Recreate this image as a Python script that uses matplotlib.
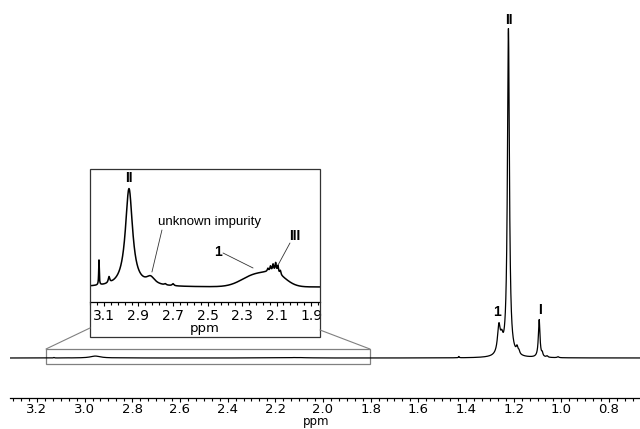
import numpy as np
import matplotlib
matplotlib.use("Agg")
import matplotlib.pyplot as plt
from matplotlib.patches import Rectangle, ConnectionPatch
from matplotlib.ticker import FixedLocator

# peak tables (ppm, height, half width)
main_pos = [1.262, 1.250, 1.222, 1.186, 1.178, 1.093, 1.080, 1.060, 1.014, 1.430]
main_hgt = [0.085, 0.035, 1.000, 0.018, 0.010, 0.115, 0.010, 0.004, 0.003, 0.004]
main_wid = [0.007, 0.006, 0.005, 0.004, 0.004, 0.004, 0.003, 0.004, 0.004, 0.002]

ins_pos = [3.129, 3.071, 2.955, 2.830, 2.745, 2.700,
           2.150, 2.135, 2.120, 2.105, 2.092, 2.078]
ins_hgt = [0.25, 0.06, 0.98, 0.075, 0.012, 0.020,
           0.03, 0.05, 0.07, 0.09, 0.07, 0.04]
ins_wid = [0.002, 0.005, 0.025, 0.030, 0.006, 0.006,
           0.004, 0.004, 0.004, 0.004, 0.004, 0.004]
hump_pos = [2.22, 2.10]   # broad hump "1" in the inset
hump_hgt = [0.12, 0.10]
hump_sig = [0.08, 0.06]
ins_scale = 0.006         # inset magnification relative to the main trace

main_ticks = [3.2, 3.0, 2.8, 2.6, 2.4, 2.2, 2.0, 1.8, 1.6, 1.4, 1.2, 1.0, 0.8]
ins_ticks = [3.1, 2.9, 2.7, 2.5, 2.3, 2.1, 1.9]


def lorentz(x, pos, hgt, wid):
    y = np.zeros_like(x)
    for p, h, w in zip(pos, hgt, wid):
        y += h / (1 + ((x - p) / w) ** 2)
    return y


def inset_trace(x):
    y = lorentz(x, ins_pos, ins_hgt, ins_wid)
    for p, h, s in zip(hump_pos, hump_hgt, hump_sig):
        y += h * np.exp(-0.5 * ((x - p) / s) ** 2)
    return y


fig = plt.figure(figsize=(6.4, 4.29), dpi=100)
W, H = 640, 429

# main spectrum
ax = fig.add_axes([10 / W, (H - 398) / H, 1 - 10 / W, (398 - 10) / H])
x = np.linspace(3.32, 0.66, 20000)
y = lorentz(x, main_pos, main_hgt, main_wid) + ins_scale * inset_trace(x)
ax.plot(x, y, color="black", lw=0.9)
ax.set_xlim(3.313, 0.670)
ax.set_ylim(-40 / 328, 1 + 20 / 328)
for s in ["top", "left", "right"]:
    ax.spines[s].set_visible(False)
ax.spines["bottom"].set_linewidth(0.9)
ax.set_yticks([])
ax.set_xticks(main_ticks)
ax.set_xticklabels(["%.1f" % t for t in main_ticks])
ax.xaxis.set_minor_locator(FixedLocator(np.arange(3.4, 0.6, -0.2 / 6)))
ax.tick_params(axis="x", which="major", length=3, width=0.8, pad=0.5, labelsize=9.5)
ax.tick_params(axis="x", which="minor", length=2.5, width=0.8)
fig.text(316 / W, (H - 422) / H, "ppm", fontsize=8.5, ha="center", va="center")

lab = dict(fontfamily="Liberation Sans", fontweight="bold", fontsize=10, ha="center", va="center")
ax.text(1.222, 338 / 328, "II", **lab)
ax.text(1.270, 46 / 328, "1", **lab)
ax.text(1.089, 48 / 328, "I", **lab)

# zoom rectangle on the main trace
rx0, rx1 = 3.162, 1.803
ry0, ry1 = -6 / 328, 9 / 328
ax.add_patch(Rectangle((rx1, ry0), rx0 - rx1, ry1 - ry0, fill=False, ec="#808080", lw=0.9))

# inset
ix0, ix1, iy0, iy1 = 90, 320, 169, 302
fig.add_artist(Rectangle((ix0 / W, (H - 337) / H), (ix1 - ix0) / W, (337 - iy0) / H,
                         transform=fig.transFigure, fill=False, ec="#333333", lw=0.9))
ins = fig.add_axes([ix0 / W, (H - iy1) / H, (ix1 - ix0) / W, (iy1 - iy0) / H])
xi = np.linspace(3.2, 1.83, 8000)
ins.plot(xi, inset_trace(xi), color="black", lw=1.1)
ins.set_xlim(3.181, 1.848)
ins.set_ylim(-0.15, 1.18)
for s in ["top", "left", "right"]:
    ins.spines[s].set_visible(False)
ins.spines["bottom"].set_linewidth(0.9)
ins.set_yticks([])
ins.set_xticks(ins_ticks)
ins.set_xticklabels(["%.1f" % t for t in ins_ticks])
ins.xaxis.set_minor_locator(FixedLocator(np.arange(3.3, 1.8, -0.04)))
ins.tick_params(axis="x", which="major", length=3, width=0.8, pad=2, labelsize=10)
ins.tick_params(axis="x", which="minor", length=2, width=0.8)
ins.set_xlabel("ppm", fontsize=9.5, labelpad=-1)

ins.text(2.955, 1.09, "II", **lab)
arr = dict(arrowstyle="-", color="#333333", lw=0.6, shrinkA=0, shrinkB=0)
ins.annotate("unknown impurity", xy=(2.822, 0.15), xytext=(2.491, 0.65),
             fontfamily="Liberation Sans", fontsize=9.5, ha="center", va="center")
ins.annotate("", xy=(2.822, 0.15), xytext=(2.764, 0.57), arrowprops=arr)
ins.annotate("", xy=(2.236, 0.19), xytext=(2.41, 0.34), arrowprops=arr)
ins.text(2.439, 0.35, "1", **lab)
ins.annotate("", xy=(2.091, 0.22), xytext=(2.022, 0.44), arrowprops=arr)
ins.text(1.993, 0.51, "III", **lab)

# connector lines from the zoom box to the inset
for (mx, fx, fy) in [(rx0, 0, -26 / 133), (rx1, 1, -28 / 133)]:
    fig.add_artist(ConnectionPatch(xyA=(mx, ry1), coordsA=ax.transData,
                                   xyB=(fx, fy), coordsB=ins.transAxes,
                                   color="#808080", lw=0.8))

fig.savefig("out.png", dpi=100)
